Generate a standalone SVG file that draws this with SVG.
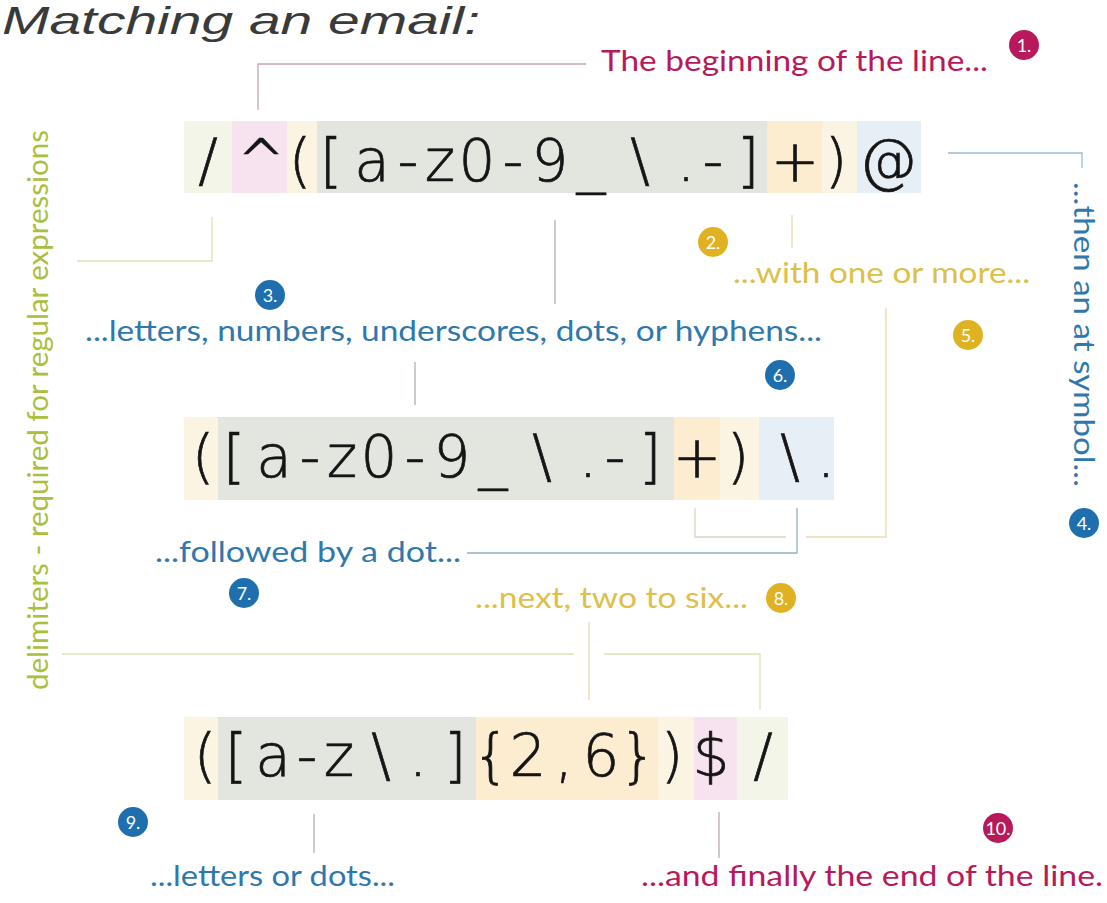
<svg xmlns="http://www.w3.org/2000/svg" width="1107" height="903" viewBox="0 0 1107 903">
<style>
.rx{font-family:"DejaVu Sans","Liberation Sans",sans-serif;font-weight:200;font-size:58px;fill:#151515;stroke:#151515;stroke-width:0.7;text-anchor:middle}
.lbl{font-family:Lato,"Open Sans","Liberation Sans",sans-serif;font-size:28px}
.crim{fill:#b8195a}.blue{fill:#2f78ad}.gold{fill:#dcc04a}.green{fill:#a9c03c}
.bt{font-family:Lato,"Open Sans","Liberation Sans",sans-serif;font-size:18px;fill:#fff;text-anchor:middle}
.ln{fill:none;stroke-width:1.3}
</style>
<rect width="1107" height="903" fill="#fff"/>
<text x="2" y="34" font-family="Liberation Sans,sans-serif" font-style="italic" font-size="38" fill="#3a3a3a" textLength="478" lengthAdjust="spacingAndGlyphs">Matching an email:</text>

<g id="connectors">
<polyline class="ln" stroke="#c9a3b6" points="258,110 258,64 586,64"/>
<polyline class="ln" stroke="#98bcd6" points="948,153 1082,153 1082,168"/>
<polyline class="ln" stroke="#dfe2b4" points="212,217 212,261 77,261"/>
<line class="ln" stroke="#a9b4bb" x1="555" y1="220" x2="555" y2="304"/>
<line class="ln" stroke="#e9dca8" x1="792" y1="215" x2="792" y2="248"/>
<polyline class="ln" stroke="#e9dca8" points="886,308 886,537 806,537"/>
<line class="ln" stroke="#a9b4bb" x1="415" y1="362" x2="415" y2="405"/>
<polyline class="ln" stroke="#d8d6c4" points="695,508 695,537 786,537"/>
<polyline class="ln" stroke="#8fb0c8" points="797,508 797,553 467,553"/>
<line class="ln" stroke="#e9dca8" x1="589" y1="622" x2="589" y2="700"/>
<line class="ln" stroke="#dfe2b4" x1="62" y1="654" x2="574" y2="654"/>
<polyline class="ln" stroke="#dfe2b4" points="604,654 760,654 760,710"/>
<line class="ln" stroke="#a9b4bb" x1="314" y1="814" x2="314" y2="853"/>
<line class="ln" stroke="#b9aab2" x1="719" y1="812" x2="719" y2="858"/>
</g>

<g id="regex1">
<rect x="184" y="121" width="48" height="72" fill="#f3f5e8"/>
<rect x="232" y="121" width="55" height="72" fill="#f7e2ef"/>
<rect x="287" y="121" width="30" height="72" fill="#fcf4e2"/>
<rect x="317" y="121" width="450" height="72" fill="#e3e6df"/>
<rect x="767" y="121" width="55" height="72" fill="#fcecd0"/>
<rect x="822" y="121" width="35" height="72" fill="#fcf4e2"/>
<rect x="857" y="121" width="64" height="72" fill="#e6eef6"/>
<text class="rx" x="208 261 300 331 372 408 440 477 513 550 591 640 686 713 748 795 836 888" y="181">/^([a-z0-9_\.-]+)@</text>
</g>

<g id="regex2">
<rect x="184" y="417" width="34" height="83" fill="#fcf4e2"/>
<rect x="218" y="417" width="456" height="83" fill="#e3e6df"/>
<rect x="674" y="417" width="46" height="83" fill="#fcecd0"/>
<rect x="720" y="417" width="39" height="83" fill="#fcf4e2"/>
<rect x="759" y="417" width="75" height="83" fill="#e6eef6"/>
<text class="rx" x="203 234 274 310 342 379 415 452 493 542 588 615 650 697 738 790 826" y="477">([a-z0-9_\.-]+)\.</text>
</g>

<g id="regex3">
<rect x="184" y="717" width="34" height="83" fill="#fcf4e2"/>
<rect x="218" y="717" width="258" height="83" fill="#e3e6df"/>
<rect x="476" y="717" width="182" height="83" fill="#fcecd0"/>
<rect x="658" y="717" width="36" height="83" fill="#fcf4e2"/>
<rect x="694" y="717" width="43" height="83" fill="#f7e2ef"/>
<rect x="737" y="717" width="51" height="83" fill="#f3f5e8"/>
<text class="rx" x="205 236 273 307 339 381 418 455 491 528 564 601 638 672 711 763" y="776">([a-z\.]{2,6})$/</text>
</g>

<g id="label-delim">
<text class="lbl green" transform="translate(48,690) rotate(-90)" textLength="560" lengthAdjust="spacingAndGlyphs">delimiters - required for regular expressions</text>
</g>
<g id="label-1">
<text class="lbl crim" x="601" y="71" textLength="387" lengthAdjust="spacingAndGlyphs">The beginning of the line...</text>
<circle cx="1024" cy="45" r="15" fill="#b8195a"/><text class="bt" x="1024" y="52">1.</text>
</g>
<g id="label-2">
<circle cx="713" cy="242" r="15" fill="#e0b222"/><text class="bt" x="713" y="249">2.</text>
<text class="lbl gold" x="733" y="283" textLength="297" lengthAdjust="spacingAndGlyphs">...with one or more...</text>
</g>
<g id="label-3">
<circle cx="270" cy="295" r="15" fill="#1f6fae"/><text class="bt" x="270" y="302">3.</text>
<text class="lbl blue" x="85" y="341" textLength="737" lengthAdjust="spacingAndGlyphs">...letters, numbers, underscores, dots, or hyphens...</text>
</g>
<g id="label-4">
<text class="lbl blue" transform="translate(1074,182) rotate(90)" textLength="305" lengthAdjust="spacingAndGlyphs">...then an at symbol...</text>
<circle cx="1084" cy="523" r="15" fill="#1f6fae"/><text class="bt" x="1084" y="530">4.</text>
</g>
<g id="label-5">
<circle cx="968" cy="335" r="15" fill="#e0b222"/><text class="bt" x="968" y="342">5.</text>
</g>
<g id="label-6">
<circle cx="780" cy="375" r="15" fill="#1f6fae"/><text class="bt" x="780" y="382">6.</text>
</g>
<g id="label-7">
<text class="lbl blue" x="155" y="562" textLength="306" lengthAdjust="spacingAndGlyphs">...followed by a dot...</text>
<circle cx="244" cy="593" r="15" fill="#1f6fae"/><text class="bt" x="244" y="600">7.</text>
</g>
<g id="label-8">
<text class="lbl gold" x="475" y="608" textLength="273" lengthAdjust="spacingAndGlyphs">...next, two to six...</text>
<circle cx="781" cy="598" r="15" fill="#e0b222"/><text class="bt" x="781" y="605">8.</text>
</g>
<g id="label-9">
<circle cx="133" cy="822" r="15" fill="#1f6fae"/><text class="bt" x="133" y="829">9.</text>
<text class="lbl blue" x="150" y="886" textLength="245" lengthAdjust="spacingAndGlyphs">...letters or dots...</text>
</g>
<g id="label-10">
<circle cx="998" cy="828" r="15" fill="#b8195a"/><text class="bt" x="998" y="835">10.</text>
<text class="lbl crim" x="641" y="886" textLength="462" lengthAdjust="spacingAndGlyphs">...and finally the end of the line.</text>
</g>
</svg>
